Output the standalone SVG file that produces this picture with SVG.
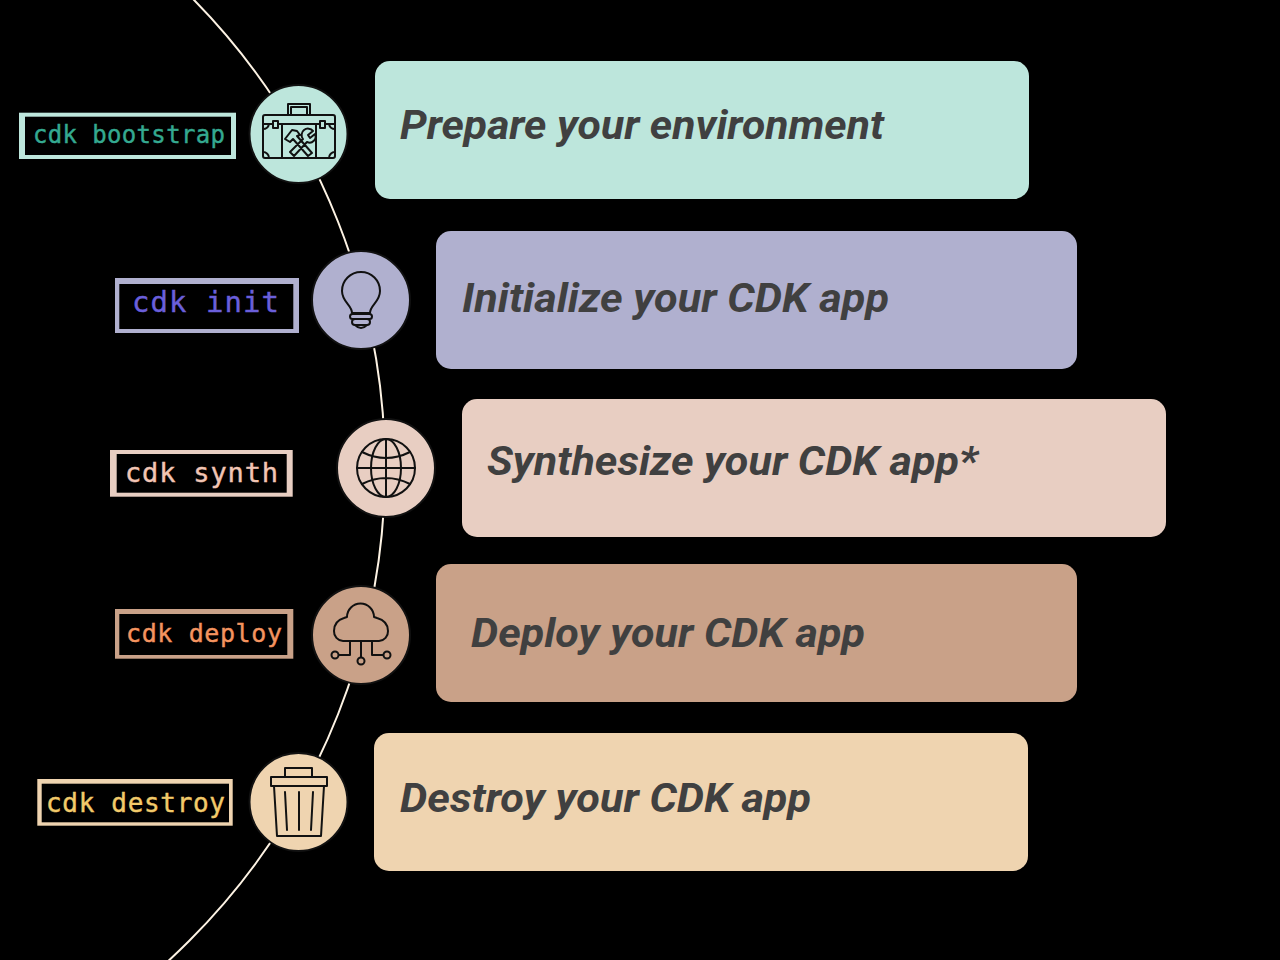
<svg xmlns="http://www.w3.org/2000/svg" width="1280" height="960" viewBox="0 0 1280 960">
<style>
.card{font-family:"Roboto","Liberation Sans",sans-serif;font-weight:700;font-style:italic;font-size:41px;fill:#404040}
.cmd{font-family:"DejaVu Sans Mono","Liberation Mono",monospace;fill:currentColor;stroke:currentColor;stroke-width:.4}
.hole{fill:#000}
.disc{stroke:#111;stroke-width:2}
.ic{fill:none;stroke:#111;stroke-width:2;stroke-linejoin:round;stroke-linecap:round}
</style>
<rect width="1280" height="960" fill="#000"/>
<g id="connectors"><circle cx="-284" cy="468" r="669" fill="none" stroke="#fdf3e4" stroke-width="2"/></g>

<g id="bootstrap">
<rect x="375" y="61" width="654" height="138" rx="15" fill="#bde6dc"/>
<text class="card" x="400" y="139" textLength="484" lengthAdjust="spacingAndGlyphs">Prepare your environment</text>
<rect x="19" y="112.700" width="217" height="46.300" fill="#bde6dc"/><rect class="hole" x="25" y="116.700" width="206" height="38.300"/>
<text class="cmd" x="33" y="143" font-size="24" style="color:#34a990" textLength="192">cdk bootstrap</text>
<circle class="disc" cx="298.500" cy="134" r="49" fill="#bde6dc"/>
<g class="ic">
<rect x="263" y="115" width="72" height="43" rx="2"/>
<path d="M288 114V104H310V114M291 114V107H307V114"/>
<rect x="273" y="121" width="5" height="7"/><rect x="320" y="121" width="5" height="7"/>
<path d="M263 124H273M278 124H320M325 124H335M282 124V158M316 124V158M263 129a6 6 0 0 0 6-5M335 129a6 6 0 0 1-6-5M263 152a6 6 0 0 1 6 6M335 152a6 6 0 0 0-6 6"/>
<path d="M285 139l7-9 5 1 3 4-3 1 15 17-4 3-15-17-3 3zM313 131l-5 4 2 3 5-4a6 6 0 0 1-8 8l-13 14-4-4 13-13a6 6 0 0 1 10-8z"/>
</g>
</g>

<g id="init">
<rect x="436" y="231" width="641" height="138" rx="15" fill="#b0b0cf"/>
<text class="card" x="462" y="312" textLength="427" lengthAdjust="spacingAndGlyphs">Initialize your CDK app</text>
<rect x="115" y="278" width="184" height="55" fill="#b0b0cf"/><rect class="hole" x="119.300" y="284" width="174" height="45"/>
<text class="cmd" x="132" y="312" font-size="29" style="color:#6a5fdb" textLength="147">cdk init</text>
<circle class="disc" cx="361" cy="300" r="49" fill="#b0b0cf"/>
<g class="ic">
<path d="M352 313c0-8-10-11-10-22a19 19 0 0 1 38 0c0 11-10 14-10 22z"/>
<rect x="350" y="314" width="22" height="5" rx="2.500"/><rect x="352" y="319" width="18" height="6" rx="3"/>
<path d="M355 325q6 6 12 0"/>
</g>
</g>

<g id="synth">
<rect x="462" y="399" width="704" height="138" rx="15" fill="#e8cec2"/>
<text class="card" x="487" y="475" textLength="491" lengthAdjust="spacingAndGlyphs">Synthesize your CDK app*</text>
<rect x="110" y="450" width="182.700" height="46.700" fill="#e8cec2"/><rect class="hole" x="116.700" y="454" width="170" height="38.700"/>
<text class="cmd" x="125" y="482" font-size="27" style="color:#f2c5b4" textLength="153">cdk synth</text>
<circle class="disc" cx="386" cy="468" r="49" fill="#e8cec2"/>
<g class="ic">
<circle cx="386" cy="468" r="29"/>
<ellipse cx="386" cy="468" rx="15" ry="29"/>
<path d="M386 439V497M357 468H415M362 452q24 12 48 0M362 484q24-12 48 0"/>
</g>
</g>

<g id="deploy">
<rect x="436" y="564" width="641" height="138" rx="15" fill="#c9a188"/>
<text class="card" x="471" y="647" textLength="394" lengthAdjust="spacingAndGlyphs">Deploy your CDK app</text>
<rect x="115" y="609" width="178.300" height="49.700" fill="#c9a188"/><rect class="hole" x="119.300" y="614" width="168" height="41"/>
<text class="cmd" x="126" y="642" font-size="25" style="color:#f4935f" textLength="156">cdk deploy</text>
<circle class="disc" cx="361" cy="635" r="49" fill="#c9a188"/>
<g class="ic">
<path d="M343 641a9.500 9.500 0 0 1-9-10q0-10 10-13l3-1a13.500 13.500 0 0 1 27 0l3 1q11 3 11 13a9.500 9.500 0 0 1-9 10z"/>
<path d="M350 641V655H339M361 641V657M372 641V655H383"/>
<circle cx="335" cy="655" r="3.500"/><circle cx="361" cy="661" r="3.500"/><circle cx="387" cy="655" r="3.500"/>
</g>
</g>

<g id="destroy">
<rect x="374" y="733" width="654" height="138" rx="15" fill="#efd4b0"/>
<text class="card" x="400" y="812" textLength="411" lengthAdjust="spacingAndGlyphs">Destroy your CDK app</text>
<rect x="37.300" y="779" width="195.400" height="46.700" fill="#efd4b0"/><rect class="hole" x="41.700" y="783.700" width="187.300" height="38.600"/>
<text class="cmd" x="46" y="812" font-size="26" style="color:#f2ca6a" textLength="179">cdk destroy</text>
<circle class="disc" cx="298.500" cy="802" r="49" fill="#efd4b0"/>
<g class="ic">
<rect x="285" y="768" width="27" height="9"/><rect x="271" y="777" width="56" height="9"/>
<path d="M274 786L277 836H321L324 786z"/>
<path d="M285 792L287 830M299 792V830M313 792L311 830"/>
</g>
</g>
</svg>
